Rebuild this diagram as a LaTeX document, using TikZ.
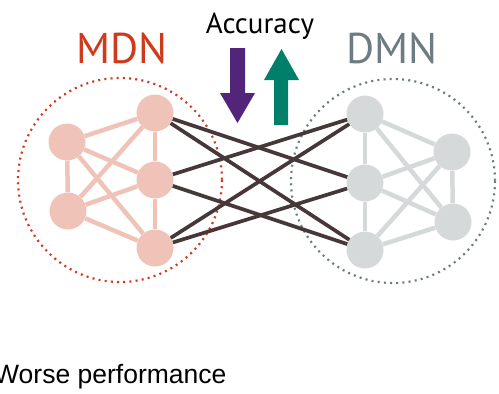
\documentclass[tikz,border=0pt]{standalone}
\usepackage{fontspec}
\newfontfamily\hfont{PT Sans}
\newfontfamily\arialf{Liberation Sans}
\definecolor{mdnred}{HTML}{CF3A1D}
\definecolor{dmngray}{HTML}{6C7C80}
\definecolor{pinknode}{HTML}{EFC3B7}
\definecolor{graynode}{HTML}{D5D9DA}
\definecolor{darkedge}{HTML}{463838}
\definecolor{arrpurple}{HTML}{53257A}
\definecolor{arrgreen}{HTML}{00806A}
\tikzset{
  pnode/.style={circle,fill=pinknode,inner sep=0pt,minimum size=37pt},
  gnode/.style={circle,fill=graynode,inner sep=0pt,minimum size=37pt},
  pedge/.style={draw=pinknode,line width=4.5pt},
  gedge/.style={draw=graynode,line width=4.5pt},
  dedge/.style={draw=darkedge,line width=3.7pt},
  dotring/.style={line width=2.2pt,dash pattern=on 2pt off 4.2pt},
}
\begin{document}
\begin{tikzpicture}[x=1pt,y=-1pt]
\useasboundingbox (0,0) rectangle (499,394);
% dotted rings
\draw[dotring,draw=mdnred] (120,180) circle (102);
\draw[dotring,draw=dmngray] (393,181) circle (102);
% left nodes
\node[pnode] (l1) at (67,142) {};
\node[pnode] (l2) at (68,211) {};
\node[pnode] (l3) at (155,113) {};
\node[pnode] (l4) at (155,180) {};
\node[pnode] (l5) at (155,248) {};
% right nodes
\node[gnode] (r3) at (365,114) {};
\node[gnode] (r4) at (365,183) {};
\node[gnode] (r5) at (365,250) {};
\node[gnode] (r1) at (452,152) {};
\node[gnode] (r2) at (453,222) {};
% network edges
\draw[pedge] (l1) -- (l3);
\draw[pedge] (l1) -- (l2);
\draw[pedge] (l1) -- (l4);
\draw[pedge] (l1) -- (l5);
\draw[pedge] (l2) -- (l3);
\draw[pedge] (l2) -- (l4);
\draw[pedge] (l2) -- (l5);
\draw[pedge] (l3) -- (l4);
\draw[pedge] (l4) -- (l5);
\draw[gedge] (r3) -- (r1);
\draw[gedge] (r3) -- (r4);
\draw[gedge] (r3) -- (r2);
\draw[gedge] (r4) -- (r1);
\draw[gedge] (r4) -- (r2);
\draw[gedge] (r4) -- (r5);
\draw[gedge] (r5) -- (r1);
\draw[gedge] (r5) -- (r2);
\draw[gedge] (r1) -- (r2);
% dark cross connections
\draw[dedge] (l3) -- (r4);
\draw[dedge] (l3) -- (r5);
\draw[dedge] (l4) -- (r3);
\draw[dedge] (l4) -- (r5);
\draw[dedge] (l5) -- (r3);
\draw[dedge] (l5) -- (r4);
% labels
\node[anchor=base,inner sep=0pt,text=mdnred,font=\hfont\fontsize{43}{43}\selectfont] (mdn) at (122,63) {MDN};
\node[anchor=base,inner sep=0pt,text=dmngray,font=\hfont\fontsize{43}{43}\selectfont] (dmn) at (392,63) {DMN};
\node[anchor=base,inner sep=0pt,text=black,font=\hfont\fontsize{29}{29}\selectfont] (acc) at (260,33) {Accuracy};
\node[anchor=base west,inner sep=0pt,text=black,font=\arialf\fontsize{26.5}{26.5}\selectfont] (worse) at (-6,383) {Worse performance};
% arrows
\fill[arrpurple] (230,48) -- (245,48) -- (245,93) -- (255,93) -- (237.5,123) -- (220,93) -- (230,93) -- cycle;
\fill[arrgreen] (274,125) -- (288,125) -- (288,80) -- (299,80) -- (281.5,49) -- (264,80) -- (274,80) -- cycle;
\end{tikzpicture}
\end{document}
